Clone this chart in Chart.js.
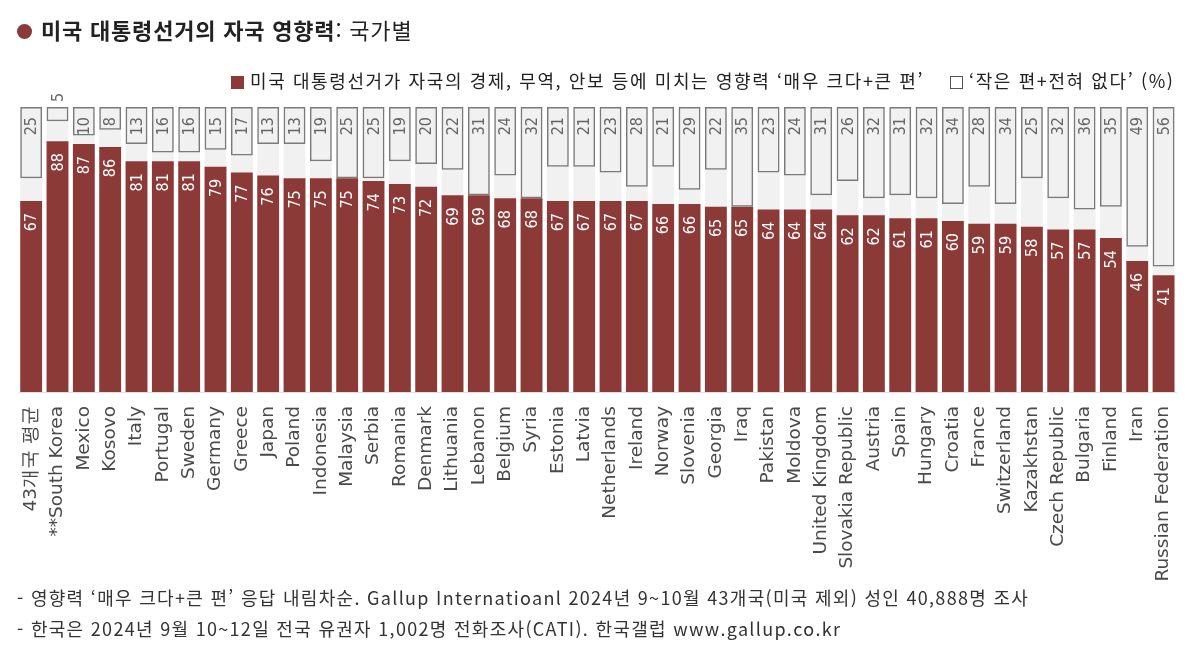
<!DOCTYPE html>
<html lang="ko">
<head>
<meta charset="utf-8">
<title>미국 대통령선거의 자국 영향력: 국가별</title>
<script src="https://cdn.jsdelivr.net/npm/chart.js@4.4.1/dist/chart.umd.min.js"></script>
<style>
  html, body { margin: 0; padding: 0; background: #fff; }
  #wrap { position: relative; width: 1200px; height: 667px; overflow: hidden; }
  #chart { position: absolute; left: 0; top: 0; }
  .kr { font-family: "Noto Sans CJK KR", "Noto Sans", sans-serif; color: #222; position: absolute; white-space: nowrap; }
  #title { left: 17px; top: 13px; font-size: 22px; font-weight: 700; line-height: 32px; letter-spacing: 0.8px; }
  #title .dot { display: inline-block; width: 15px; height: 15px; border-radius: 50%; background: #8b3a37; margin-right: 9px; vertical-align: 0px; }
  #title .sub { font-weight: 400; }
  #legend { left: 231px; top: 65px; font-size: 18px; line-height: 30px; letter-spacing: 1.6px; }
  #legend .sw { display: inline-block; width: 13px; height: 13px; vertical-align: -1px; margin-right: 6px; }
  #legend .red { background: #8b3a37; }
  #legend .box { background: #fff; border: 1px solid #555; width: 11px; height: 11px; margin-left: 26px; }
  .note { left: 17px; font-size: 18px; color: #333; letter-spacing: 1.3px; }
  #note1 { top: 584px; }
  #note2 { top: 615px; }
</style>
</head>
<body>
<div id="wrap">
  <canvas id="chart" width="1200" height="667"></canvas>
  <div id="title" class="kr"><span class="dot"></span>미국 대통령선거의 자국 영향력<span class="sub">: 국가별</span></div>
  <div id="legend" class="kr"><span class="sw red"></span>미국 대통령선거가 자국의 경제, 무역, 안보 등에 미치는 영향력 ‘매우 크다+큰 편’<span class="sw box"></span>‘작은 편+전혀 없다’ (%)</div>
  <div id="note1" class="kr note">- 영향력 ‘매우 크다+큰 편’ 응답 내림차순. Gallup Internatioanl 2024년 9~10월 43개국(미국 제외) 성인 40,888명 조사</div>
  <div id="note2" class="kr note">- 한국은 2024년 9월 10~12일 전국 유권자 1,002명 전화조사(CATI). 한국갤럽 www.gallup.co.kr</div>
</div>
<script>
// Data
const countries = [
  '43개국 평균', '**South Korea', 'Mexico', 'Kosovo', 'Italy', 'Portugal', 'Sweden', 'Germany',
  'Greece', 'Japan', 'Poland', 'Indonesia', 'Malaysia', 'Serbia', 'Romania', 'Denmark',
  'Lithuania', 'Lebanon', 'Belgium', 'Syria', 'Estonia', 'Latvia', 'Netherlands', 'Ireland',
  'Norway', 'Slovenia', 'Georgia', 'Iraq', 'Pakistan', 'Moldova', 'United Kingdom',
  'Slovakia Republic', 'Austria', 'Spain', 'Hungary', 'Croatia', 'France', 'Switzerland',
  'Kazakhstan', 'Czech Republic', 'Bulgaria', 'Finland', 'Iran', 'Russian Federation'
];

// '매우 크다+큰 편' (%)
const bigImpact = [
  67, 88, 87, 86, 81, 81, 81, 79, 77, 76, 75, 75, 75, 74, 73, 72,
  69, 69, 68, 68, 67, 67, 67, 67, 66, 66, 65, 65, 64, 64, 64,
  62, 62, 61, 61, 60, 59, 59, 58, 57, 57, 54, 46, 41
];

// '작은 편+전혀 없다' (%)
const smallImpact = [
  25, 5, 10, 8, 13, 16, 16, 15, 17, 13, 13, 19, 25, 25, 19, 20,
  22, 31, 24, 32, 21, 21, 23, 28, 21, 29, 22, 35, 23, 24, 31,
  26, 32, 31, 32, 34, 28, 34, 25, 32, 36, 35, 49, 56
];

const FULL = 100;

const RED = '#8b3a37';
const BG_GRAY = '#f1f1f1';

// Value labels, rotated to read bottom-up
const valueLabels = {
  id: 'valueLabels',
  afterDatasetsDraw(chart) {
    const ctx = chart.ctx;
    const yScale = chart.scales.y;
    const topY = yScale.getPixelForValue(FULL);
    const bars = chart.getDatasetMeta(1).data;
    const boxes = chart.getDatasetMeta(2).data;

    ctx.save();
    ctx.font = '16px "DejaVu Sans Condensed", "DejaVu Sans", sans-serif';
    ctx.textBaseline = 'middle';

    bars.forEach((bar, i) => {
      ctx.save();
      ctx.translate(bar.x, yScale.getPixelForValue(bigImpact[i]) + 12);
      ctx.rotate(-Math.PI / 2);
      ctx.textAlign = 'right';
      ctx.fillStyle = '#fff';
      ctx.fillText(String(bigImpact[i]), 0, 1);
      ctx.restore();
    });

    boxes.forEach((box, i) => {
      const v = smallImpact[i];
      ctx.save();
      ctx.fillStyle = '#666';
      if (v < 8) {
        // too small to fit, put above the box
        ctx.translate(box.x, topY - 5);
        ctx.rotate(-Math.PI / 2);
        ctx.textAlign = 'left';
      } else {
        ctx.translate(box.x, topY + 10);
        ctx.rotate(-Math.PI / 2);
        ctx.textAlign = 'right';
      }
      ctx.fillText(String(v), 0, 1);
      ctx.restore();
    });
    ctx.restore();
  }
};

const ctx = document.getElementById('chart').getContext('2d');

new Chart(ctx, {
  type: 'bar',
  data: {
    labels: countries,
    datasets: [
      {
        label: 'bg',
        data: countries.map(() => [0, FULL]),
        backgroundColor: BG_GRAY,
        borderWidth: 0,
        order: 3
      },
      {
        label: '매우 크다+큰 편',
        data: bigImpact,
        backgroundColor: RED,
        borderWidth: 0,
        order: 2
      },
      {
        label: '작은 편+전혀 없다',
        data: smallImpact.map(v => [FULL - v, FULL]),
        backgroundColor: 'rgba(0,0,0,0)',
        borderColor: '#7a7a7a',
        borderWidth: 1.5,
        borderSkipped: false,
        order: 1
      }
    ]
  },
  options: {
    responsive: false,
    animation: false,
    devicePixelRatio: 1,
    layout: { padding: { left: 18, right: 20, top: 107, bottom: 0 } },
    datasets: {
      bar: { grouped: false, barPercentage: 0.83, categoryPercentage: 1 }
    },
    plugins: {
      legend: { display: false },
      tooltip: { enabled: false },
      title: { display: false }
    },
    scales: {
      x: {
        grid: { display: false, drawTicks: false },
        border: { display: true, color: '#e2e2e2' },
        afterFit: (scale) => { scale.height = 275; },
        ticks: {
          autoSkip: false,
          minRotation: 90,
          maxRotation: 90,
          padding: 14,
          color: '#4a4a4a',
          font: { family: '"DejaVu Sans", sans-serif', size: 18.5 }
        }
      },
      y: {
        display: false,
        min: 0,
        max: FULL
      }
    }
  },
  plugins: [valueLabels]
});
</script>
</body>
</html>
